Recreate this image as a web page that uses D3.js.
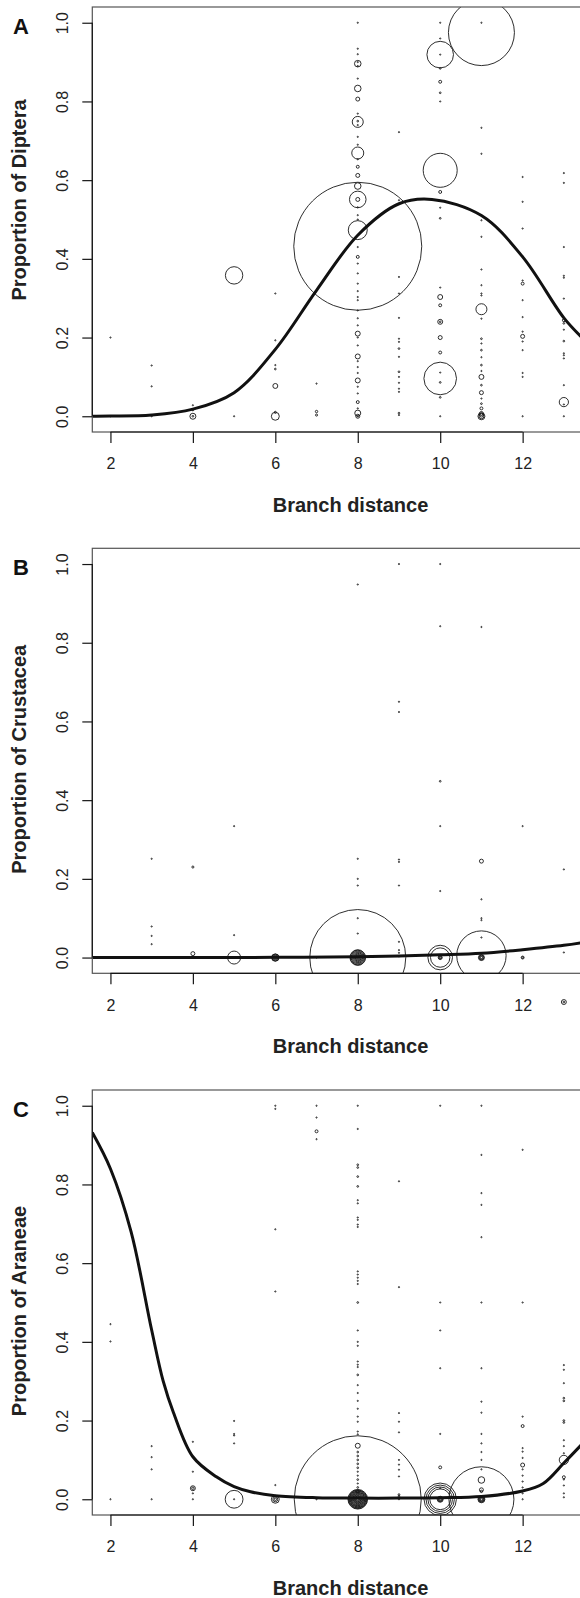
<!DOCTYPE html>
<html>
<head>
<meta charset="utf-8">
<script src="https://cdn.jsdelivr.net/npm/d3@7"></script>
<style>
  body { margin: 0; background: #fff; }
  svg { display: block; font-family: "Liberation Sans", Arial, sans-serif; }
</style>
</head>
<body>
<svg id="chart" width="580" height="1598"></svg>
<script>
// ticks
const xTicks = [2, 4, 6, 8, 10, 12];
const yTicks = [0, 0.2, 0.4, 0.6, 0.8, 1.0];

// points: [branch distance, proportion, sample weight]
const dipteraPts = [
  [2,0.2,1],[2,0,1],
  [3,0.129,1],[3,0.076,1],[3,0,1],
  [4,0,25],[4,0,2],[4,0.028,1],[4,0.015,1],
  [5,0.358,210],[5,0,1],
  [6,0.312,1],[6,0.193,1],[6,0.13,1],[6,0.12,2],[6,0.077,17],[6,0,44],[6,0.01,3],
  [7,0.083,1],[7,0.012,4],[7,0.003,3],
  [8,1,1],[8,0.934,1],[8,0.92,1],[8,0.896,30],[8,0.9,1],[8,0.89,1],[8,0.858,1],[8,0.833,30],
  [8,0.806,11],[8,0.769,1],[8,0.748,84],[8,0.75,2],[8,0.74,1],[8,0.71,1],[8,0.69,1],[8,0.669,100],
  [8,0.653,1],[8,0.634,6],[8,0.612,11],[8,0.585,30],[8,0.551,191],[8,0.551,11],[8,0.531,1],
  [8,0.511,1],[8,0.5,1],[8,0.473,250],[8,0.432,11378],[8,0.43,1],[8,0.405,6],[8,0.388,1],
  [8,0.363,1],[8,0.337,1],[8,0.318,1],[8,0.303,1],[8,0.295,1],[8,0.269,1],[8,0.249,1],[8,0.231,1],
  [8,0.21,17],[8,0.2,1],[8,0.18,1],[8,0.152,17],[8,0.14,1],[8,0.125,1],[8,0.11,1],[8,0.091,17],
  [8,0.075,1],[8,0.058,1],[8,0.036,6],[8,0.02,1],[8,0.008,25],[8,0,11],[8,0,1],
  [9,0.722,1],[9,0.549,1],[9,0.354,1],[9,0.312,1],[9,0.25,1],[9,0.197,1],[9,0.189,1],[9,0.172,2],
  [9,0.151,1],[9,0.113,2],[9,0.1,1],[9,0.085,1],[9,0.07,1],[9,0.062,1],[9,0.008,2],[9,0.003,1],
  [10,1,1],[10,0.96,1],[10,0.919,491],[10,0.919,1],[10,0.884,2],[10,0.85,6],[10,0.822,2],[10,0.8,1],
  [10,0.625,803],[10,0.57,6],[10,0.53,1],[10,0.503,2],[10,0.327,1],[10,0.303,17],[10,0.282,6],
  [10,0.24,17],[10,0.24,2],[10,0.2,11],[10,0.162,6],[10,0.096,738],[10,0.111,1],[10,0.086,2],
  [10,0.048,2],[10,0,1],
  [11,0.975,3025],[11,1,1],[11,0.733,1],[11,0.667,1],[11,0.498,1],[11,0.456,1],[11,0.373,1],
  [11,0.333,1],[11,0.312,1],[11,0.307,1],[11,0.272,84],[11,0.248,1],[11,0.197,2],[11,0.185,1],
  [11,0.168,2],[11,0.15,1],[11,0.13,2],[11,0.115,1],[11,0.1,17],[11,0.079,2],[11,0.06,11],
  [11,0.045,1],[11,0.032,2],[11,0.02,6],[11,0.007,11],[11,0,34],[11,0,17],[11,0.003,11],
  [12,0.608,1],[12,0.545,1],[12,0.477,1],[12,0.345,1],[12,0.337,6],[12,0.295,1],[12,0.252,1],
  [12,0.215,1],[12,0.203,11],[12,0.19,1],[12,0.168,1],[12,0.11,1],[12,0.1,1],[12,0,1],
  [13,0.618,1],[13,0.593,1],[13,0.43,1],[13,0.357,1],[13,0.352,1],[13,0.299,1],[13,0.244,6],
  [13,0.236,2],[13,0.22,1],[13,0.191,2],[13,0.16,1],[13,0.155,1],[13,0.147,1],[13,0.079,1],
  [13,0.036,59],[13,0.03,1],[13,0,1]
];

const crustaceaPts = [
  [3,0.251,1],[3,0.079,1],[3,0.055,1],[3,0.034,1],
  [4,0.23,3],[4,0.01,11],[4,0,1],
  [5,0.334,1],[5,0.057,1],[5,0,117],
  [6,0,38],[6,0,32],[6,0,19],[6,0,9],[6,0,3],
  [7,0,1],
  [8,0.948,1],[8,0.251,1],[8,0.2,1],[8,0.183,1],[8,0.1,1],[8,0.061,1],[8,0,6400],
  [8,0,169],[8,0,152],[8,0,121],[8,0,93],[8,0,69],[8,0,49],[8,0,32],[8,0,19],[8,0,9],[8,0,3],
  [9,1,1],[9,0.65,1],[9,0.624,1],[9,0.249,1],[9,0.243,1],[9,0.183,1],[9,0.04,1],[9,0.019,1],
  [9,0.012,1],[9,0.003,1],
  [10,1,1],[10,0.842,1],[10,0.448,2],[10,0.334,1],[10,0.169,1],[10,0,420],[10,0,261],[10,0,11],[10,0,6],[10,0,2],
  [11,0.84,1],[11,0.245,11],[11,0.148,1],[11,0.1,1],[11,0.095,1],[11,0.051,1],[11,0.005,1695],
  [11,0,25],[11,0,16],[11,0,9],[11,0,3],
  [12,0.334,1],[12,0,6],[12,0,2],
  [13,0.224,1],[13,0.013,1]
];
// drawn outside the plot box, below the axis
const crustaceaStray = [[13,-0.113,17],[13,-0.113,2]];

const araneaePts = [
  [2,0.445,1],[2,0.401,1],[2,0,1],
  [3,0.135,1],[3,0.107,1],[3,0.076,1],[3,0,1],
  [4,0.146,1],[4,0.07,1],[4,0.028,17],[4,0.028,4],[4,0.015,1],[4,0,1],
  [5,0.199,1],[5,0.166,1],[5,0.162,1],[5,0.142,1],[5,0,220],[5,0,1],
  [6,1,1],[6,0.992,1],[6,0.686,1],[6,0.528,1],[6,0.036,1],[6,0,44],[6,0,17],[6,0,4],
  [7,1,1],[7,0.97,1],[7,0.935,6],[7,0.915,1],[7,0,1],
  [8,1,1],[8,0.941,1],[8,0.85,2],[8,0.843,2],[8,0.82,2],[8,0.795,2],[8,0.76,1],[8,0.752,1],
  [8,0.716,1],[8,0.71,1],[8,0.698,1],[8,0.692,1],[8,0.579,1],[8,0.571,1],[8,0.563,1],[8,0.555,1],
  [8,0.547,1],[8,0.5,2],[8,0.429,1],[8,0.4,1],[8,0.39,1],[8,0.35,1],[8,0.342,1],[8,0.336,1],
  [8,0.316,2],[8,0.29,1],[8,0.27,1],[8,0.25,1],[8,0.23,1],[8,0.21,1],[8,0.197,1],[8,0.172,1],
  [8,0.165,1],[8,0.136,17],[8,0.12,2],[8,0.11,2],[8,0.1,2],[8,0.09,2],[8,0.08,2],[8,0.07,1],
  [8,0.06,1],[8,0.05,2],[8,0.04,1],[8,0.03,2],[8,0.02,4],[8,0,11200],[8,0,267],[8,0,240],
  [8,0,212],[8,0,187],[8,0,160],[8,0,136],[8,0,115],[8,0,93],[8,0,74],[8,0,56],[8,0,41],
  [8,0,28],[8,0,18],[8,0,9],[8,0,3],
  [9,0.808,1],[9,0.539,1],[9,0.219,1],[9,0.197,1],[9,0.17,1],[9,0.1,1],[9,0.088,1],[9,0.075,1],
  [9,0.058,1],[9,0.012,2],[9,0.008,2],[9,0,1],
  [10,1,1],[10,0.5,1],[10,0.429,1],[10,0.333,1],[10,0.166,1],[10,0.081,6],[10,0.028,1],
  [10,0,729],[10,0,560],[10,0,420],[10,0,300],[10,0,25],[10,0,16],[10,0,9],[10,0,3],
  [11,1,1],[11,0.875,1],[11,0.778,1],[11,0.748,1],[11,0.666,1],[11,0.5,1],[11,0.333,1],
  [11,0.248,1],[11,0.22,1],[11,0.166,1],[11,0.142,1],[11,0.12,1],[11,0.1,1],[11,0.076,1],
  [11,0.049,30],[11,0.024,11],[11,0.02,4],[11,0,2934],[11,0,34],[11,0,25],[11,0,16],[11,0,9],[11,0,3],
  [12,0.888,1],[12,0.5,1],[12,0.21,1],[12,0.186,6],[12,0.13,1],[12,0.121,1],[12,0.105,1],
  [12,0.087,11],[12,0.076,1],[12,0.06,1],[12,0.045,1],[12,0.03,1],[12,0.015,1],[12,0,1],
  [13,0.341,1],[13,0.329,1],[13,0.295,1],[13,0.257,2],[13,0.25,2],[13,0.2,2],[13,0.195,2],
  [13,0.15,1],[13,0.135,1],[13,0.117,1],[13,0.1,59],[13,0.056,6],[13,0.05,1],[13,0.035,1],
  [13,0.015,1],[13,0.005,1]
];

// fitted curves
const dipteraFitX = [1.56, 2, 3, 4, 5, 6, 7, 8, 9, 9.8, 11, 12, 13, 13.44];
const dipteraFitY = [0.0003, 0.0005, 0.003, 0.018, 0.06, 0.17, 0.32, 0.46, 0.54, 0.551, 0.51, 0.405, 0.25, 0.2];
const crustaceaFitX = [1.56, 4, 6, 8, 9, 10, 11, 12, 13, 13.44];
const crustaceaFitY = [0, 0.0002, 0.0006, 0.002, 0.004, 0.007, 0.011, 0.02, 0.031, 0.038];
const araneaeFitX = [1.56, 2, 2.5, 3, 3.28, 3.53, 4, 4.57, 5, 5.4, 6, 7, 8, 9, 10, 11, 12, 12.5, 13, 13.44];
const araneaeFitY = [0.932, 0.84, 0.68, 0.43, 0.3, 0.22, 0.108, 0.057, 0.032, 0.019, 0.009, 0.004, 0.003, 0.003, 0.004, 0.007, 0.021, 0.04, 0.092, 0.14];

const panels = [
  { letter: "A", label: "Proportion of Diptera", pts: dipteraPts, fx: dipteraFitX, fy: dipteraFitY, top: 7, labelMid: 193 },
  { letter: "B", label: "Proportion of Crustacea", pts: crustaceaPts, fx: crustaceaFitX, fy: crustaceaFitY, top: 548.3, labelMid: 211, stray: crustaceaStray },
  { letter: "C", label: "Proportion of Araneae", pts: araneaePts, fx: araneaeFitX, fy: araneaeFitY, top: 1090, labelMid: 221 }
];

const svg = d3.select("#chart");
const left = 92.3, plotW = 489.7, plotH = 425;
const ink = "#161616";

const x = d3.scaleLinear().domain([1.56, 13.44]).range([left, left + plotW]);
const r = d3.scaleSqrt().domain([0, 100]).range([0, 6]);

panels.forEach((p, i) => {
  const g = svg.append("g");
  const y = d3.scaleLinear().domain([-0.04, 1.04]).range([p.top + plotH, p.top]);

  const clipId = "clip" + i;
  svg.append("clipPath").attr("id", clipId)
    .append("rect").attr("x", left).attr("y", p.top).attr("width", plotW).attr("height", plotH);

  const plot = g.append("g").attr("clip-path", `url(#${clipId})`);

  plot.selectAll("circle.pt")
    .data(p.pts)
    .join("circle")
    .attr("class", "pt")
    .attr("cx", d => x(d[0]))
    .attr("cy", d => y(d[1]))
    .attr("r", d => r(d[2]))
    .attr("fill", "none")
    .attr("stroke", ink)
    .attr("stroke-width", 0.9);

  const line = d3.line().x(d => x(d[0])).y(d => y(d[1])).curve(d3.curveCatmullRom.alpha(0.5));
  plot.append("path")
    .datum(p.fx.map((v, k) => [v, p.fy[k]]))
    .attr("d", line)
    .attr("fill", "none")
    .attr("stroke", "#111")
    .attr("stroke-width", 3);

  if (p.stray) {
    g.selectAll("circle.stray")
      .data(p.stray)
      .join("circle")
      .attr("class", "stray")
      .attr("cx", d => x(d[0]))
      .attr("cy", d => y(d[1]))
      .attr("r", d => r(d[2]))
      .attr("fill", "none")
      .attr("stroke", ink)
      .attr("stroke-width", 0.9);
  }

  // box
  g.append("rect")
    .attr("x", left).attr("y", p.top)
    .attr("width", plotW).attr("height", plotH)
    .attr("fill", "none").attr("stroke", "#555").attr("stroke-width", 1.2);

  // x axis
  const xa = g.append("g")
    .attr("transform", `translate(0,${p.top + plotH})`)
    .call(d3.axisBottom(x).tickValues(xTicks).tickFormat(d3.format("d")).tickSize(11).tickSizeOuter(0).tickPadding(15));
  xa.select(".domain").remove();
  xa.append("line")
    .attr("x1", x(xTicks[0])).attr("x2", x(xTicks[xTicks.length - 1]))
    .attr("stroke", ink).attr("stroke-width", 1.2);
  xa.selectAll(".tick line").attr("stroke", ink).attr("stroke-width", 1.2);
  xa.selectAll("text").attr("font-size", 16).attr("fill", "#222")
    .attr("font-family", "Liberation Sans, Arial, sans-serif");

  // y axis
  const ya = g.append("g")
    .attr("transform", `translate(${left},0)`)
    .call(d3.axisLeft(y).tickValues(yTicks).tickFormat(d3.format(".1f")).tickSize(10).tickSizeOuter(0));
  ya.select(".domain").remove();
  ya.append("line")
    .attr("y1", y(0)).attr("y2", y(1))
    .attr("stroke", ink).attr("stroke-width", 1.2);
  ya.selectAll(".tick line").attr("stroke", ink).attr("stroke-width", 1.2);
  ya.selectAll("text")
    .attr("x", null).attr("dy", null)
    .attr("text-anchor", "middle")
    .attr("transform", "translate(-24,0) rotate(-90)")
    .attr("font-size", 16).attr("fill", "#222")
    .attr("font-family", "Liberation Sans, Arial, sans-serif");

  // titles
  g.append("text")
    .attr("x", 350.5)
    .attr("y", p.top + plotH + 80)
    .attr("text-anchor", "middle")
    .attr("font-size", 20).attr("font-weight", "bold").attr("fill", "#222")
    .text("Branch distance");

  g.append("text")
    .attr("transform", `translate(26,${p.top + p.labelMid}) rotate(-90)`)
    .attr("text-anchor", "middle")
    .attr("font-size", 20).attr("font-weight", "bold").attr("fill", "#222")
    .text(p.label);

  g.append("text")
    .attr("x", 21).attr("y", p.top + 27)
    .attr("text-anchor", "middle")
    .attr("font-size", 22).attr("font-weight", "bold").attr("fill", "#111")
    .text(p.letter);
});
</script>
</body>
</html>
